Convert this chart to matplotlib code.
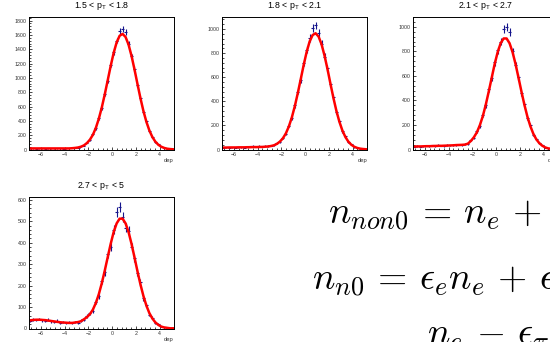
import numpy as np
import matplotlib.pyplot as plt
from matplotlib.ticker import MultipleLocator

plt.rcParams['font.family'] = ['Liberation Sans', 'DejaVu Sans']
plt.rcParams['mathtext.fontset'] = 'cm'

# --- binning of the dep histograms (bin width 0.25, -7 .. 5.25) ---
bin_lo = -7.0
bin_w = 0.25
n_bins = 49

# --- panel titles (pT bins) ---
titles = ["1.5 < p$_\\mathregular{T}$ < 1.8", "1.8 < p$_\\mathregular{T}$ < 2.1",
          "2.1 < p$_\\mathregular{T}$ < 2.7", "2.7 < p$_\\mathregular{T}$ < 5"]

# --- counts per bin ---
data1 = [14, 16, 13, 17, 15, 12, 16, 18, 14, 15, 17, 13, 16, 19,
         20, 25, 26, 42, 55, 95, 132, 210, 296, 438, 580, 779, 960, 1180, 1362, 1520, 1650, 1685,
         1640, 1480, 1300, 1128, 905, 725, 530, 395, 260, 180, 105, 70, 36, 24, 9, 7, 2]
data2 = [15, 18, 14, 19, 16, 17, 20, 15, 22, 26, 28, 24, 30, 27,
         33, 28, 31, 38, 52, 62, 99, 128, 198, 258, 366, 480, 575, 720, 830, 925, 1010, 1030,
         968, 880, 772, 676, 540, 438, 310, 240, 152, 110, 60, 42, 20, 15, 5, 6, 3]
data3 = [22, 28, 24, 27, 30, 25, 33, 28, 35, 31, 29, 36, 33, 38,
         35, 40, 36, 45, 44, 75, 95, 150, 190, 280, 360, 490, 580, 710, 810, 880, 980, 1000,
         960, 800, 690, 590, 460, 370, 260, 200, 120, 85, 50, 33, 15, 10, 4, 3, 1]
data4 = [36, 42, 39, 44, 38, 35, 41, 33, 30, 36, 27, 31, 25, 29,
         24, 30, 27, 36, 40, 58, 70, 82, 125, 150, 220, 262, 345, 380, 460, 545, 565, 520,
         470, 455, 380, 330, 260, 215, 140, 110, 65, 50, 25, 20, 8, 6, 2, 2, 0]

# --- fitted curves evaluated at the bin centres ---
fit1 = [15, 15, 15, 15, 15, 15, 15, 15, 15, 15, 15, 15, 15, 15,
        18, 22, 28, 39, 58, 90, 137, 205, 302, 430, 587, 770, 968, 1168, 1350, 1496, 1588, 1614,
        1571, 1465, 1308, 1119, 916, 718, 539, 388, 267, 176, 111, 67, 39, 22, 11, 6, 3]
fit2 = [16, 16, 17, 17, 17, 18, 18, 18, 19, 19, 20, 20, 21, 21,
        23, 25, 29, 35, 47, 66, 93, 134, 191, 266, 359, 467, 584, 703, 811, 897, 950, 965,
        938, 874, 780, 668, 546, 428, 321, 231, 159, 105, 66, 40, 23, 13, 7, 4, 2]
fit3 = [24, 25, 25, 26, 27, 27, 28, 29, 30, 30, 31, 32, 33, 34,
        36, 37, 38, 40, 48, 70, 100, 140, 198, 272, 366, 473, 586, 698, 794, 866, 905, 905,
        866, 794, 698, 586, 472, 364, 268, 190, 128, 83, 52, 31, 17, 9, 5, 2, 1]
fit4 = [38, 40, 41, 41, 40, 39, 37, 35, 33, 31, 29, 28, 27, 26,
        26, 28, 30, 34, 43, 53, 67, 88, 119, 160, 211, 270, 333, 395, 450, 490, 512, 512,
        490, 450, 395, 332, 267, 206, 152, 107, 72, 47, 29, 17, 9, 5, 3, 1, 1]

y_max = [1850, 1100, 1080, 613]
y_step = [200, 200, 200, 100]

centers = bin_lo + bin_w * (np.arange(n_bins) + 0.5)

W, H = 550, 342
fig = plt.figure(figsize=(W / 100, H / 100), dpi=100)

# frame boxes in pixels: left, top, right, bottom
boxes = [(29, 17, 174, 149.5), (222, 17, 367, 149.5),
         (413, 17, 558, 149.5), (29, 197, 174, 328.5)]

datas = [data1, data2, data3, data4]
fits = [fit1, fit2, fit3, fit4]

for i in range(4):
    l, t, r, b = boxes[i]
    ax = fig.add_axes([l / W, (H - b) / H, (r - l) / W, (b - t) / H])
    d = np.array(datas[i], dtype=float)
    ax.errorbar(centers, d, yerr=np.sqrt(d), xerr=bin_w / 2, fmt='none',
                ecolor='#14148c', elinewidth=0.8, capsize=0)
    ax.plot(centers, fits[i], color='#ff0000', lw=1.8)
    ax.set_xlim(-7, 5.2)
    ax.set_ylim(0, y_max[i])
    ax.xaxis.set_major_locator(MultipleLocator(2))
    ax.xaxis.set_minor_locator(MultipleLocator(0.4))
    ax.yaxis.set_major_locator(MultipleLocator(y_step[i]))
    ax.yaxis.set_minor_locator(MultipleLocator(y_step[i] / 5))
    ax.tick_params(which='both', direction='in', top=False, right=False,
                   labelsize=3.8, labelcolor='#333333', width=0.5, pad=1.5)
    ax.tick_params(which='major', length=2.5)
    ax.tick_params(which='minor', length=1.3)
    for sp in ax.spines.values():
        sp.set_linewidth(0.7)
    ax.set_xlabel("dep", loc='right', fontsize=4.2, labelpad=1, color='#333333')
    ax.text(0.5, 1.085, titles[i], transform=ax.transAxes, ha='center', va='center',
            fontsize=6.3)

# --- equations on the right (cut by the right and bottom edges) ---
eq_size = 27
fig.text(328 / W, (H - 223) / H, r"$n_{non0}\,=\,n_e\,+\,n_{\pi}$", fontsize=eq_size, va='baseline')
fig.text(312 / W, (H - 289) / H, r"$n_{n0}\,=\,\epsilon_e n_e\,+\,\epsilon_{\pi} n_{\pi}$",
         fontsize=eq_size, va='baseline')
fig.text(427 / W, (H - 344) / H, r"$n_e\,-\,\epsilon_{\pi} n_{non0}$", fontsize=eq_size, va='baseline')

fig.savefig("out.png", dpi=100)
